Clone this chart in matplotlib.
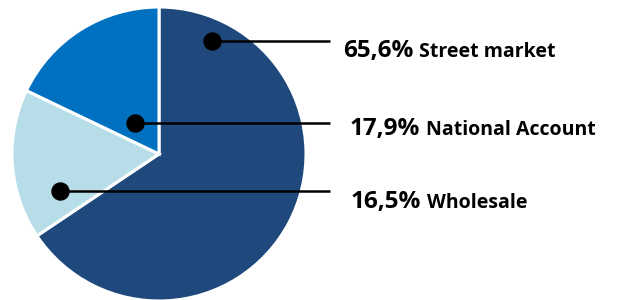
import matplotlib
matplotlib.use('Agg')
import matplotlib.pyplot as plt
import numpy as np

# data
segments = ['Street market', 'Wholesale', 'National Account']
shares = [65.6, 16.5, 17.9]
colors = ['#1F497D', '#B7DEE8', '#0070C0']

# label layout (pixel coords): dot position, line end, text start/baseline
label_order = ['Street market', 'National Account', 'Wholesale']
dot_xy = [(212, 41), (135, 123), (60, 191)]
line_end_x = 330
text_x = [343, 350, 351]
text_base_y = [57, 135, 208]

fig = plt.figure(figsize=(6.17, 3.0), dpi=100)
ax = fig.add_axes([0, 0, 1, 1])
ax.set_xlim(0, 617)
ax.set_ylim(300, 0)
ax.set_aspect('equal')
ax.axis('off')

# pie drawn in pixel space; y axis is inverted so go counterclockwise to look clockwise
ax.pie(shares, colors=colors, startangle=-90, counterclock=True,
       center=(159, 154), radius=147, frame=True,
       wedgeprops=dict(edgecolor='white', linewidth=2.2))
ax.set_xlim(0, 617)
ax.set_ylim(300, 0)
ax.axis('off')

fam = ['Open Sans', 'DejaVu Sans']
fig.canvas.draw()
rend = fig.canvas.get_renderer()
for name, (dx, dy), tx, ty in zip(label_order, dot_xy, text_x, text_base_y):
    val = shares[segments.index(name)]
    ax.plot([dx, line_end_x], [dy, dy], color='black', lw=1.8, solid_capstyle='butt')
    ax.scatter([dx], [dy], s=150, color='black', zorder=5)
    pct = ax.text(tx, ty, ('%.1f%%' % val).replace('.', ','), fontsize=17.5,
                  fontweight='bold', family=fam, va='baseline', ha='left')
    bb = pct.get_window_extent(renderer=rend)
    x1 = ax.transData.inverted().transform((bb.x1, 0))[0]
    ax.text(x1 + 6, ty, name, fontsize=14, fontweight='bold', family=fam,
            va='baseline', ha='left')

fig.savefig('out.png', dpi=100)
